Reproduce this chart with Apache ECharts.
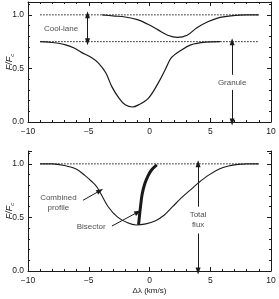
<!DOCTYPE html>
<html><head><meta charset="utf-8">
<script src="https://cdn.jsdelivr.net/npm/echarts@6/dist/echarts.min.js"></script>
<style>html,body{margin:0;padding:0;background:#fff}#c{width:279px;height:299px}</style>
</head><body><div id="c"></div>
<script>
// ---- tick labels ----
const xTickLabels = [-10, -5, 0, 5, 10];
const yTickLabels = [0.0, 0.5, 1.0];

// ---- reference (dotted) levels ----
const refX = [-9, 9];
const continuumLevel = 1.0;
const granuleLevel = 0.75;

// ---- top panel: cool-lane profile ----
const coolX = [-3.9, -3, -2, -1, 0, 0.7, 1.5, 2.3, 3.1, 3.9, 4.8, 5.6, 6.7, 8, 9];
const coolY = [1.0, 0.99, 0.98, 0.955, 0.905, 0.86, 0.81, 0.79, 0.81, 0.88, 0.935, 0.97, 0.99, 1.0, 1.0];

// ---- top panel: granule profile ----
const granX = [-9, -8.3, -7.5, -6.9, -6.2, -5.6, -4.75, -4.2, -3.6, -3.1, -2.5, -2.0, -1.4, -0.9, -0.1, 0.7, 1.3, 1.8, 2.6, 3.4, 4.6, 5.8];
const granY = [0.75, 0.745, 0.735, 0.72, 0.69, 0.65, 0.6, 0.55, 0.46, 0.33, 0.22, 0.16, 0.14, 0.16, 0.22, 0.36, 0.49, 0.6, 0.67, 0.72, 0.745, 0.75];

// ---- bottom panel: combined profile ----
const combX = [-9, -8, -7, -6, -5.3, -4.8, -4.3, -3.4, -2.6, -1.8, -1.1, -0.3, 0.5, 1.2, 1.9, 2.6, 3.3, 4.0, 4.8, 5.7, 6.5, 7.3, 8, 9];
const combY = [1.0, 1.0, 0.985, 0.95, 0.89, 0.84, 0.78, 0.6, 0.5, 0.45, 0.43, 0.44, 0.47, 0.52, 0.6, 0.68, 0.75, 0.82, 0.89, 0.95, 0.98, 0.995, 1.0, 1.0];

// ---- bottom panel: bisector ----
const bisX = [-0.9, -0.82, -0.72, -0.6, -0.4, -0.15, 0.15, 0.6];
const bisY = [0.43, 0.52, 0.62, 0.72, 0.81, 0.88, 0.94, 0.99];

const zip = (a, b) => a.map((v, i) => [v, b[i]]);
const FONT = 'Liberation Sans';
const INK = '#1a1a1a';

function xAx(gridIndex, position, showLabels, name) {
  const fmt = v => (v < 0 ? '\u2212' : '') + Math.abs(v);
  return {
    type: 'value', gridIndex, position, min: -10, max: 10, interval: 5,
    name: name || '', nameLocation: 'middle', nameGap: 16,
    nameTextStyle: { fontFamily: FONT, fontSize: 8, color: INK },
    axisLine: { show: true, onZero: false, lineStyle: { color: INK, width: 1 } },
    axisTick: { show: true, inside: true, length: 4, lineStyle: { color: INK, width: 1 } },
    minorTick: { show: true, splitNumber: 5, length: 2, lineStyle: { color: INK, width: 1 } },
    axisLabel: { show: showLabels, customValues: xTickLabels, margin: 5, formatter: fmt, fontFamily: FONT, fontSize: 8.5, color: INK },
    splitLine: { show: false }, minorSplitLine: { show: false }
  };
}
function yAx(gridIndex, position, showLabels, name) {
  return {
    type: 'value', gridIndex, position, min: 0, max: 1.12, interval: 0.5,
    name: name || '', nameLocation: 'middle', nameGap: 13, nameRotate: 90, nameMoveOverlap: false,
    nameTextStyle: { rich: {
      i: { fontFamily: FONT, fontStyle: 'italic', fontSize: 9, color: INK, lineHeight: 12 },
      s: { fontFamily: FONT, fontStyle: 'italic', fontSize: 6, color: INK, lineHeight: 12, verticalAlign: 'bottom' }
    } },
    axisLine: { show: true, onZero: false, lineStyle: { color: INK, width: 1 } },
    axisTick: { show: true, inside: true, length: 4, lineStyle: { color: INK, width: 1 } },
    minorTick: { show: true, splitNumber: 5, length: 2, lineStyle: { color: INK, width: 1 } },
    axisLabel: { show: showLabels, customValues: yTickLabels, margin: 4, formatter: v => v.toFixed(1), fontFamily: FONT, fontSize: 8.5, color: INK },
    splitLine: { show: false }, minorSplitLine: { show: false }
  };
}

const yName = '{i|F/F}{s|c}';
const xAxis = [
  xAx(0, 'bottom', true),                        // 0
  xAx(0, 'top', false),                          // 1
  xAx(1, 'bottom', true, '\u0394\u03bb (km/s)')  // 2
];
const yAxis = [
  yAx(0, 'left', true, yName), // 0
  yAx(0, 'right', false),      // 1
  yAx(1, 'left', true, yName), // 2
  yAx(1, 'right', false)       // 3
];

const dotted = { color: INK, width: 1, type: [1.5, 1.5] };
const curve = (w) => ({ color: INK, width: w });
function lineSeries(xi, yi, data, style, smooth) {
  return { type: 'line', xAxisIndex: xi, yAxisIndex: yi, data, symbol: 'none', smooth: smooth || false, lineStyle: style, silent: true, z: 3 };
}
function anchor(xi, yi) {
  return { type: 'line', xAxisIndex: xi, yAxisIndex: yi, data: [[0, 0]], symbol: 'none', lineStyle: { opacity: 0 }, silent: true };
}
const tri = (c) => ({ coord: c, symbol: 'triangle', symbolSize: [5, 7] });
const none = (c) => ({ coord: c, symbol: 'none' });
function arrows(xi, yi, items) {
  return { type: 'line', xAxisIndex: xi, yAxisIndex: yi, data: [], symbol: 'none', silent: true,
    markLine: { silent: true, animation: false, label: { show: false }, lineStyle: { color: INK, width: 1, type: 'solid' }, data: items } };
}
function texts(xi, yi, items) {
  return { type: 'scatter', xAxisIndex: xi, yAxisIndex: yi, symbolSize: 1, itemStyle: { color: 'rgba(0,0,0,0)' }, silent: true,
    label: { show: true, position: 'inside', formatter: p => p.name, fontFamily: FONT, fontSize: 8, color: INK, lineHeight: 10, align: 'center', verticalAlign: 'middle' },
    data: items.map(t => ({ name: t[0], value: [t[1], t[2]] })) };
}

const option = {
  animation: false,
  grid: [
    { left: 28, right: 8, top: 2, height: 120, outerBoundsMode: 'none', containLabel: false },
    { left: 28, right: 8, top: 151, height: 120, outerBoundsMode: 'none', containLabel: false }
  ],
  xAxis, yAxis,
  series: [
    anchor(1, 1), anchor(2, 3),
    lineSeries(0, 0, refX.map(x => [x, continuumLevel]), dotted),
    lineSeries(0, 0, refX.map(x => [x, granuleLevel]), dotted),
    lineSeries(0, 0, zip(coolX, coolY), curve(1.2), 0.35),
    lineSeries(0, 0, zip(granX, granY), curve(1.2), 0.35),
    lineSeries(2, 2, refX.map(x => [x, continuumLevel]), dotted),
    lineSeries(2, 2, zip(combX, combY), curve(1.1), 0.35),
    lineSeries(2, 2, zip(bisX, bisY), curve(3), 0.4),
    arrows(0, 0, [
      [tri([-5.1, 0.75]), tri([-5.1, 1.0])],
      [none([6.8, 0.44]), tri([6.8, 0.75])],
      [none([6.8, 0.30]), tri([6.8, 0.0])]
    ]),
    arrows(2, 2, [
      [none([4.0, 0.60]), tri([4.0, 1.0])],
      [none([4.0, 0.35]), tri([4.0, 0.0])],
      [none([-5.47, 0.66]), tri([-4.07, 0.75])],
      [none([-3.09, 0.42]), tri([-0.95, 0.55])]
    ]),
    texts(0, 0, [['Cool-lane', -7.28, 0.87], ['Granule', 6.8, 0.37]]),
    texts(2, 2, [['Combined\nprofile', -7.5, 0.635], ['Bisector', -4.8, 0.41], ['Total\nflux', 4.0, 0.48]])
  ]
};
const chart = echarts.init(document.getElementById('c'), null, { renderer: 'canvas' });
chart.setOption(option);
</script></body></html>
